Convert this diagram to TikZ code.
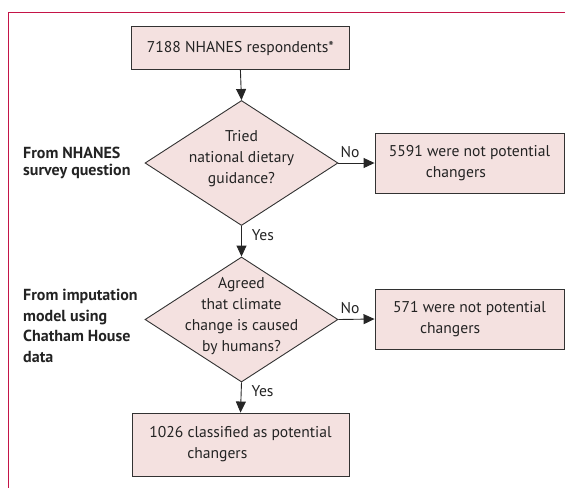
\documentclass[tikz,border=0pt]{standalone}
\usepackage{fontspec}
\setmainfont{PT Sans}
\usetikzlibrary{shapes.geometric,arrows.meta}
\definecolor{frameC}{RGB}{196,20,72}
\definecolor{boxfill}{RGB}{244,225,224}
\definecolor{edgeC}{RGB}{50,50,50}
\definecolor{txtC}{RGB}{35,35,35}
\begin{document}
\begin{tikzpicture}[x=1pt,y=-1pt,
  txt/.style={font=\fontsize{15.6}{21}\selectfont, text=txtC},
  box/.style={txt, draw=edgeC, fill=boxfill, line width=0.9pt, inner sep=0pt, align=left},
  dia/.style={diamond, draw=edgeC, fill=boxfill, line width=0.9pt, inner sep=0pt, minimum width=193pt, minimum height=125pt},
  conn/.style={draw=black!85, line width=0.9pt, -{Triangle[length=11pt,width=10pt]}},
  lbl/.style={text=txtC, align=left, anchor=west, inner sep=0pt},
  ]
\useasboundingbox (0,0) rectangle (565,488);
% frame
\draw[frameC, line width=1pt] (565,12) -- (8.5,12) -- (8.5,488);

% nodes
\node[box, minimum width=218pt, minimum height=42.6pt] (top) at (240.4,48) {7188 NHANES respondents*};
\node[dia] (d1) at (241.5,163) {};
\node[txt, align=center, inner sep=0pt] (d1t) at (241.5,159) {Tried\\national dietary\\guidance?};
\node[box, minimum width=189pt, minimum height=60pt] (b1) at (469.5,163) {5591 were not potential\\\hspace*{37pt}changers};
\node[dia] (d2) at (241.5,319.5) {};
\node[txt, align=center, inner sep=0pt] (d2t) at (241.5,316) {Agreed\\that climate\\change is caused\\by humans?};
\node[box, minimum width=189pt, minimum height=60pt] (b2) at (469.5,319) {571 were not potential\\\hspace*{27pt}changers};
\node[box, minimum width=217pt, minimum height=63pt] (b3) at (240.5,444.5) {1026 classified as potential\\\hspace*{38pt}changers};

% side labels
\node[lbl, font=\fontsize{16}{17}\selectfont\bfseries] (l1) at (23,162.5) {From NHANES\\survey question};
\node[lbl, font=\fontsize{16}{20.7}\selectfont\bfseries] (l2) at (23,326) {From imputation\\model using\\Chatham House\\data};

% connectors
\draw[conn] (top.south) -- (d1.north);
\draw[conn] (d1.south) -- node[txt, right, pos=0.3, inner sep=0pt, xshift=10pt] (y1) {Yes} (d2.north);
\draw[conn] (d2.south) -- node[txt, right, pos=0.3, inner sep=0pt, xshift=10pt] (y2) {Yes} (b3.north);
\draw[conn] (d1.east) -- node[txt, above, pos=0.32, inner sep=0pt, yshift=5pt] (n1) {No} (b1.west);
\draw[conn] (d2.east) -- node[txt, above, pos=0.32, inner sep=0pt, yshift=5pt] (n2) {No} (b2.west);
\end{tikzpicture}
\end{document}
